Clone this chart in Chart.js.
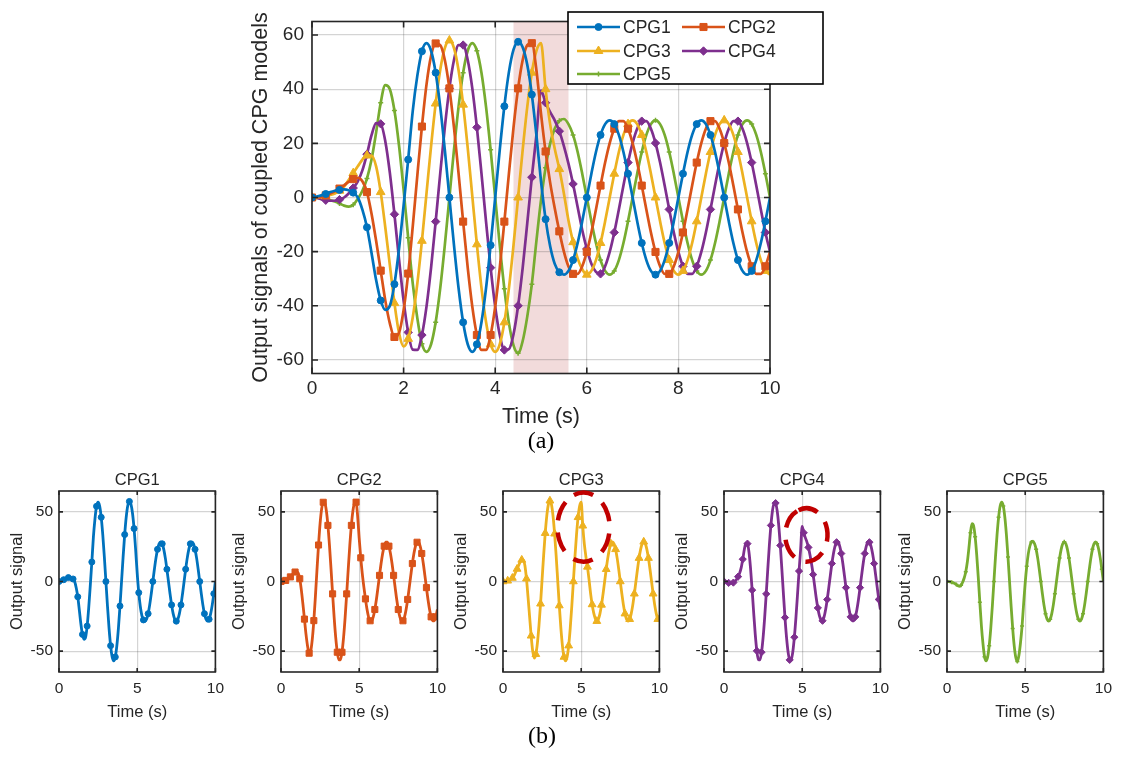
<!DOCTYPE html>
<html>
<head>
<meta charset="utf-8">
<script src="https://cdn.jsdelivr.net/npm/chart.js@4.4.1/dist/chart.umd.min.js"></script>
<style>
  html, body { margin: 0; padding: 0; background: #fff; }
  body { width: 1124px; height: 757px; position: relative; overflow: hidden; }
  canvas { position: absolute; }
  .tag { position: absolute; font-family: "Liberation Serif", "Times New Roman", serif; font-size: 24px; color: #000; transform: translate(-50%, -50%); }
</style>
</head>
<body>
<canvas id="mainChart" width="590" height="430" style="left:240px;top:0px"></canvas>
<canvas id="sub0" width="231" height="252" style="left:0px;top:470px"></canvas>
<canvas id="sub1" width="231" height="252" style="left:222px;top:470px"></canvas>
<canvas id="sub2" width="231" height="252" style="left:444px;top:470px"></canvas>
<canvas id="sub3" width="231" height="252" style="left:665px;top:470px"></canvas>
<canvas id="sub4" width="231" height="252" style="left:888px;top:470px"></canvas>
<div class="tag" style="left:541px;top:440px">(a)</div>
<div class="tag" style="left:542px;top:735px">(b)</div>
<script>
// sample times (s)
const time = [
  0, 0.1, 0.2, 0.3, 0.4, 0.5, 0.6, 0.7, 0.8, 0.9,
  1, 1.1, 1.2, 1.3, 1.4, 1.5, 1.6, 1.7, 1.8, 1.9,
  2, 2.1, 2.2, 2.3, 2.4, 2.5, 2.6, 2.7, 2.8, 2.9,
  3, 3.1, 3.2, 3.3, 3.4, 3.5, 3.6, 3.7, 3.8, 3.9,
  4, 4.1, 4.2, 4.3, 4.4, 4.5, 4.6, 4.7, 4.8, 4.9,
  5, 5.1, 5.2, 5.3, 5.4, 5.5, 5.6, 5.7, 5.8, 5.9,
  6, 6.1, 6.2, 6.3, 6.4, 6.5, 6.6, 6.7, 6.8, 6.9,
  7, 7.1, 7.2, 7.3, 7.4, 7.5, 7.6, 7.7, 7.8, 7.9,
  8, 8.1, 8.2, 8.3, 8.4, 8.5, 8.6, 8.7, 8.8, 8.9,
  9, 9.1, 9.2, 9.3, 9.4, 9.5, 9.6, 9.7, 9.8, 9.9,
  10
];

const cpg1 = [
  0, 0.3, 0.8, 1.3, 2, 2.5, 2.8, 3, 2.7, 1.8,
  0, -4.5, -11, -20.5, -30.5, -38, -41.5, -40, -32, -19,
  -3, 14, 32, 45, 54, 57, 54.2, 46.1, 33.5, 17.6,
  0, -17.6, -33.5, -46.1, -54.2, -57, -54.2, -46.1, -33.5, -17.6,
  0, 17.7, 33.7, 46.4, 54.6, 57.5, 55.5, 49, 38, 23,
  6, -8, -18, -24.5, -27.6, -28.5, -27.1, -23.1, -16.8, -8.8,
  0, 8.8, 16.8, 23.1, 27.1, 28.5, 27.1, 23.1, 16.8, 8.8,
  0, -8.8, -16.8, -23.1, -27.1, -28.5, -27.1, -23.1, -16.8, -8.8,
  0, 8.8, 16.8, 23.1, 27.1, 28.5, 27.1, 23.1, 16.8, 8.8,
  0, -8.8, -16.8, -23.1, -27.1, -28.5, -27.1, -23.1, -16.8, -8.8,
  0
];

const cpg2 = [
  0, 0, 0.3, 0.8, 1.5, 2.3, 3.3, 4.5, 5.8, 6.8,
  7.3, 6, 2, -6, -16, -27, -38, -46.5, -51.5, -50,
  -41.6, -28.1, -10.7, 8.2, 26.2, 41.7, 52.3, 56.9, 56.3, 50.8,
  40.3, 25.9, 8.9, -8.9, -25.9, -40.3, -50.8, -56.3, -56.3, -50.8,
  -40.3, -25.9, -8.9, 8.9, 25.9, 40.3, 50.8, 56.3, 57, 47,
  31, 17, 5.5, -4, -12.5, -20, -25.5, -28.2, -28.2, -25.4,
  -20.1, -12.9, -4.4, 4.4, 12.9, 20.1, 25.4, 28.2, 28.2, 25.4,
  20.1, 12.9, 4.4, -4.4, -12.9, -20.1, -25.4, -28.2, -28.2, -25.4,
  -20.1, -12.9, -4.4, 4.4, 12.9, 20.1, 25.4, 28.2, 28.2, 25.4,
  20.1, 12.9, 4.4, -4.4, -12.9, -20.1, -25.4, -28.2, -28.2, -25.4,
  -20.1
];

const cpg3 = [
  0, 0, 0.2, 0.5, 0.9, 1.5, 2.5, 4, 6.5, 9,
  11.5, 14, 15.5, 15.5, 11.5, 2, -11, -25, -39, -50,
  -55, -52.2, -44.2, -31.7, -16, 1.5, 19, 34.7, 47.2, 55.2,
  58, 55.2, 47, 34.3, 18.3, 0.5, -17.3, -33.3, -46, -54.2,
  -57, -54.2, -46.1, -33.5, -17.6, 0, 17.6, 33.5, 46.1, 54.2,
  57, 40, 27, 18, 10.5, 1.5, -8.5, -16.5, -22.5, -26.5,
  -28.5, -27.1, -23.1, -16.8, -8.8, 0, 8.8, 16.8, 23.1, 27.1,
  28.5, 27.1, 23.1, 16.8, 8.8, 0, -8.8, -16.8, -23.1, -27.1,
  -28.5, -27.1, -23.1, -16.8, -8.8, 0, 8.8, 16.8, 23.1, 27.1,
  28.5, 27.1, 23.1, 16.8, 8.8, 0, -8.8, -16.8, -23.1, -27.1,
  -28.5
];

const cpg4 = [
  0, -0.2, -0.6, -1, -1.2, -1.2, -0.8, 0, 1.5, 3.5,
  6, 10, 16, 23, 27.5, 27.2, 20.8, 9.1, -6.2, -22.8,
  -38.1, -49.8, -56.2, -56.3, -50.8, -40.3, -25.9, -8.9, 8.9, 25.9,
  40.3, 50.8, 56.3, 56.3, 50.8, 40.3, 25.9, 8.9, -8.9, -25.9,
  -40.3, -50.8, -56.3, -56, -50.5, -40, -26, -9.5, 7.5, 23,
  39.5, 35, 31.5, 28.5, 24.5, 19, 12.5, 5, -3.5, -12,
  -19, -24.5, -27.5, -28.2, -25.4, -20.1, -12.9, -4.4, 4.4, 12.9,
  20.1, 25.4, 28.2, 28.2, 25.4, 20.1, 12.9, 4.4, -4.4, -12.9,
  -20.1, -25.4, -28.2, -28.2, -25.4, -20.1, -12.9, -4.4, 4.4, 12.9,
  20.1, 25.4, 28.2, 28.2, 25.4, 20.1, 12.9, 4.4, -4.4, -12.9,
  -20.1
];

const cpg5 = [
  0, -0.1, -0.3, -0.6, -1, -1.5, -2.2, -3, -3.4, -2.7,
  -0.5, 2.5, 7, 14, 24, 35, 41.5, 40, 32.1, 19.2,
  2.9, -14.9, -31.8, -44.6, -54, -57, -54.2, -46.1, -33.5, -17.6,
  0, 17.6, 33.5, 46.1, 54.2, 57, 54.2, 46.1, 33.5, 17.6,
  0, -17.7, -33.7, -46.4, -54.6, -57.5, -53, -44, -32, -16,
  -1, 11, 20, 25.5, 28.3, 29, 27.1, 23.1, 16.8, 8.8,
  0, -8.8, -16.8, -23.1, -27.1, -28.5, -27.1, -23.1, -16.8, -8.8,
  0, 8.8, 16.8, 23.1, 27.1, 28.5, 27.1, 23.1, 16.8, 8.8,
  0, -8.8, -16.8, -23.1, -27.1, -28.5, -27.1, -23.1, -16.8, -8.8,
  0, 8.8, 16.8, 23.1, 27.1, 28.5, 27.1, 23.1, 16.8, 8.8,
  0
];

const seriesNames = ['CPG1', 'CPG2', 'CPG3', 'CPG4', 'CPG5'];
const seriesValues = [cpg1, cpg2, cpg3, cpg4, cpg5];
const mainXTicks = [0, 2, 4, 6, 8, 10];
const mainYTicks = [-60, -40, -20, 0, 20, 40, 60];
const subXTicks = [0, 5, 10];
const subYTicks = [-50, 0, 50];
const shadeRange = [4.4, 5.6];          // highlighted time window (s)
// dashed ellipses on the CPG3 / CPG4 panels, in data units
const ellipseCPG3 = { x: 5.15, y: 39, rx: 1.67, ry: 24.8 };
const ellipseCPG4 = { x: 5.27, y: 33.4, rx: 1.35, ry: 19.2 };

// styling
const FONT = '"Liberation Sans", Arial, Helvetica, sans-serif';
const TEXT = '#262626';
const GRID = 'rgba(38,38,38,0.2)';
const seriesColors = ['#0072BD', '#D95319', '#EDB120', '#7E2F8E', '#77AC30'];
const markerStyles = ['circle', 'rect', 'triangle', 'rectRot', 'cross'];
const mainMarker = [3.5, 5, 5, 4.2, 2.5];
const subMarker = [3, 4.3, 4.5, 3.6, 2];

function pointMarker(ctx, style, x, y, r, color) {
  ctx.save();
  ctx.fillStyle = color;
  ctx.strokeStyle = color;
  ctx.lineWidth = style === 'cross' ? 1.5 : 1;
  if (Chart.helpers && Chart.helpers.drawPoint) {
    Chart.helpers.drawPoint(ctx, { pointStyle: style, radius: r, rotation: 0, borderWidth: ctx.lineWidth }, x, y);
  } else {
    ctx.beginPath();
    ctx.arc(x, y, r, 0, Math.PI * 2);
    ctx.fill();
  }
  ctx.restore();
}

function makeDataset(i, markers, width) {
  return {
    label: seriesNames[i],
    data: time.map((t, k) => ({ x: t, y: seriesValues[i][k] })),
    borderColor: seriesColors[i],
    backgroundColor: seriesColors[i],
    borderWidth: width,
    cubicInterpolationMode: 'monotone',
    pointStyle: markerStyles[i],
    pointRadius: ctx => (ctx.dataIndex % 3 === 0 ? markers[i] : 0),
    pointBorderWidth: i === 4 ? 1.5 : 1,
    pointBorderColor: seriesColors[i],
    pointBackgroundColor: seriesColors[i]
  };
}

// shaded time window
const shadePlugin = {
  id: 'shade',
  beforeDraw(chart, args, opts) {
    if (!opts.range) return;
    const { ctx, chartArea: a, scales: { x } } = chart;
    const x0 = x.getPixelForValue(opts.range[0]);
    const x1 = x.getPixelForValue(opts.range[1]);
    ctx.save();
    ctx.fillStyle = opts.color;
    ctx.fillRect(x0, a.top, x1 - x0, a.bottom - a.top);
    ctx.restore();
  }
};

// MATLAB style box with inner ticks
const boxPlugin = {
  id: 'box',
  afterDatasetsDraw(chart, args, opts) {
    const { ctx, chartArea: a, scales: { x, y } } = chart;
    ctx.save();
    ctx.strokeStyle = TEXT;
    ctx.lineWidth = opts.lineWidth;
    ctx.beginPath();
    x.ticks.forEach(t => {
      const p = x.getPixelForValue(t.value);
      ctx.moveTo(p, a.bottom); ctx.lineTo(p, a.bottom - opts.tick);
      ctx.moveTo(p, a.top); ctx.lineTo(p, a.top + opts.tick);
    });
    y.ticks.forEach(t => {
      const p = y.getPixelForValue(t.value);
      ctx.moveTo(a.left, p); ctx.lineTo(a.left + opts.tick, p);
      ctx.moveTo(a.right, p); ctx.lineTo(a.right - opts.tick, p);
    });
    ctx.stroke();
    ctx.strokeRect(a.left, a.top, a.right - a.left, a.bottom - a.top);
    ctx.restore();
  }
};

// two column legend of the top chart
const legendPlugin = {
  id: 'cpgLegend',
  afterDraw(chart) {
    const ctx = chart.ctx;
    ctx.save();
    ctx.fillStyle = '#fff';
    ctx.fillRect(328, 12, 255, 72);
    ctx.strokeStyle = '#000';
    ctx.lineWidth = 1.6;
    ctx.strokeRect(328, 12, 255, 72);
    const slots = [[337, 27], [442, 27], [337, 51], [442, 51], [337, 74]];
    ctx.font = '17.5px ' + FONT;
    ctx.textBaseline = 'middle';
    seriesNames.forEach((name, i) => {
      const [lx, ly] = slots[i];
      ctx.strokeStyle = seriesColors[i];
      ctx.lineWidth = 2.7;
      ctx.beginPath();
      ctx.moveTo(lx, ly);
      ctx.lineTo(lx + 43, ly);
      ctx.stroke();
      pointMarker(ctx, markerStyles[i], lx + 21.5, ly, mainMarker[i], seriesColors[i]);
      ctx.fillStyle = TEXT;
      ctx.fillText(name, lx + 46, ly + 1);
    });
    ctx.restore();
  }
};

// panel title centred over the plot area
const panelTitlePlugin = {
  id: 'panelTitle',
  afterDraw(chart, args, opts) {
    if (!opts.text) return;
    const { ctx, chartArea: a } = chart;
    ctx.save();
    ctx.font = '16.5px ' + FONT;
    ctx.fillStyle = TEXT;
    ctx.textAlign = 'center';
    ctx.textBaseline = 'middle';
    ctx.fillText(opts.text, (a.left + a.right) / 2, a.top - 11);
    ctx.restore();
  }
};

// red dashed ellipse
const ellipsePlugin = {
  id: 'ellipse',
  afterDraw(chart, args, opts) {
    if (!opts.shape) return;
    const { ctx, scales: { x, y } } = chart;
    const e = opts.shape;
    const cx = x.getPixelForValue(e.x);
    const cy = y.getPixelForValue(e.y);
    const rx = Math.abs(x.getPixelForValue(e.x + e.rx) - cx);
    const ry = Math.abs(y.getPixelForValue(e.y + e.ry) - cy);
    ctx.save();
    ctx.strokeStyle = '#C00000';
    ctx.lineWidth = 4.5;
    ctx.setLineDash([20, 12]);
    ctx.beginPath();
    ctx.ellipse(cx, cy, rx, ry, 0, -Math.PI * 0.62, Math.PI * 1.38);
    ctx.stroke();
    ctx.restore();
  }
};

function axis(ticks, min, max, fit, tickSize, titleText, titleSize, titlePad, tickPad) {
  return {
    type: 'linear',
    min: min,
    max: max,
    afterBuildTicks: s => { s.ticks = ticks.map(v => ({ value: v })); },
    afterFit: fit,
    grid: { color: GRID, lineWidth: 1.2, drawTicks: false },
    border: { display: false },
    ticks: { color: TEXT, font: { family: FONT, size: tickSize }, padding: tickPad, maxRotation: 0 },
    title: { display: true, text: titleText, color: TEXT, font: { family: FONT, size: titleSize }, padding: titlePad }
  };
}

new Chart(document.getElementById('mainChart'), {
  type: 'line',
  data: { datasets: seriesNames.map((_, i) => makeDataset(i, mainMarker, 2.7)) },
  options: {
    responsive: false,
    animation: false,
    events: [],
    layout: { padding: { top: 21.5, right: 60, left: 0, bottom: 0 } },
    plugins: {
      legend: { display: false },
      tooltip: { enabled: false },
      shade: { range: shadeRange, color: 'rgba(205,110,110,0.25)' },
      box: { lineWidth: 1.6, tick: 6 }
    },
    scales: {
      x: axis(mainXTicks, 0, 10, s => { s.height = 56.5; }, 19, 'Time (s)', 21.5, { top: 0, bottom: 0 }, 4),
      y: axis(mainYTicks, -65, 65, s => { s.width = 72; }, 19, 'Output signals of coupled CPG models', 21.5, { top: 8, bottom: 0 }, 8)
    }
  },
  plugins: [shadePlugin, boxPlugin, legendPlugin]
});

const ellipses = [null, null, ellipseCPG3, ellipseCPG4, null];
seriesNames.forEach((name, i) => {
  new Chart(document.getElementById('sub' + i), {
    type: 'line',
    data: { datasets: [makeDataset(i, subMarker, 2.8)] },
    options: {
      responsive: false,
      animation: false,
      events: [],
      layout: { padding: { top: 21, right: 12, left: 0, bottom: 0 } },
      plugins: {
        legend: { display: false },
        tooltip: { enabled: false },
        box: { lineWidth: 1.6, tick: 4 },
        panelTitle: { text: name },
        ellipse: { shape: ellipses[i] }
      },
      scales: {
        x: axis(subXTicks, 0, 10, s => { s.height = 50; }, 15.5, 'Time (s)', 16.5, { top: 0, bottom: 0 }, 7),
        y: axis(subYTicks, -65, 65, s => { s.width = 59; }, 15.5, 'Output signal', 16.5, { top: 8, bottom: 0 }, 6)
      }
    },
    plugins: [boxPlugin, panelTitlePlugin, ellipsePlugin]
  });
});
</script>
</body>
</html>
